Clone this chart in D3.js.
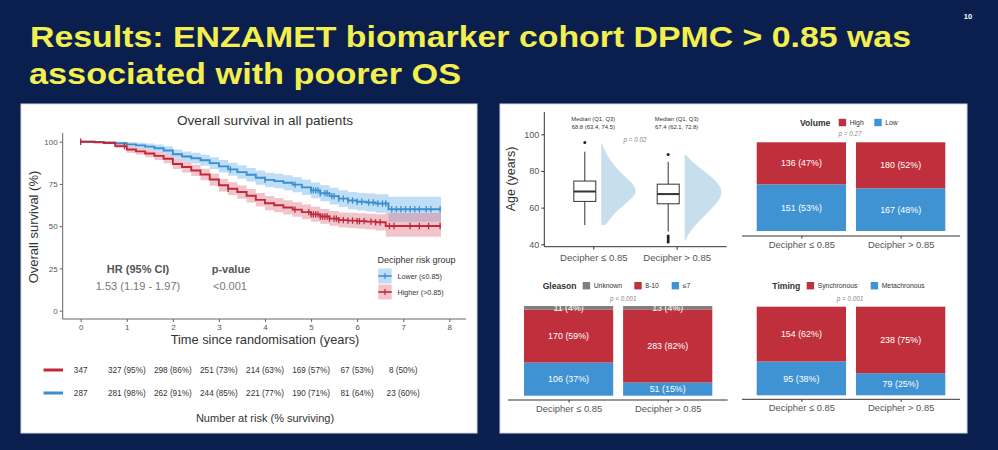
<!DOCTYPE html>
<html><head><meta charset="utf-8">
<script src="https://cdn.jsdelivr.net/npm/d3@7"></script>
<style>body{margin:0;background:#0b1f4f;} svg{display:block}</style>
</head><body>
<svg id="c" width="998" height="450"></svg>
<script>
// ---------------- DATA ----------------
const titleLines = ["Results: ENZAMET biomarker cohort DPMC > 0.85 was", "associated with poorer OS"];
const pageNumber = "10";

// Kaplan-Meier: Lower (<=0.85) group
const lowT  = [0,0.3,0.5,0.75,1.0,1.2,1.4,1.6,1.8,2.0,2.2,2.4,2.6,2.8,3.0,3.2,3.4,3.6,3.8,4.0,4.2,4.4,4.6,4.8,5.0,5.2,5.4,5.6,5.8,6.0,6.2,6.4,6.68,7.82];
const lowS  = [100,99.8,99.5,99.1,98.4,97.8,97.1,96.1,94.8,92.6,91.2,90.2,89.0,87.3,85.4,83.6,82.0,80.4,78.7,77.4,76.7,75.7,74.6,73.0,71.2,69.5,67.8,66.3,65.2,64.5,64.0,63.4,60.0,60.0];
const lowLo = [100,99.5,99.0,98.2,97.1,96.2,95.2,94.0,92.4,89.9,88.3,87.1,85.8,83.9,81.8,79.8,78.1,76.4,74.6,73.2,72.4,71.3,70.1,68.4,66.5,64.7,62.9,61.3,60.1,59.3,58.7,57.9,52.7,52.7];
const lowHi = [100,100,100,100,99.7,99.4,99.0,98.3,97.3,95.4,94.2,93.4,92.3,90.8,89.1,87.5,86.0,84.5,82.9,81.7,81.0,80.1,79.1,77.6,75.9,74.3,72.7,71.3,70.3,69.7,69.3,68.9,67.5,67.5];
const lowCens = [3.25,4.0,4.65,5.0,5.05,5.1,5.15,5.2,5.3,5.35,5.45,5.5,5.6,5.7,5.8,5.9,6.0,6.1,6.25,6.35,6.45,6.55,6.62,6.75,6.85,6.95,7.05,7.15,7.25,7.35,7.5,7.6,7.8];

// Kaplan-Meier: Higher (>0.85) group
const highT  = [0,0.3,0.5,0.75,1.0,1.2,1.4,1.6,1.8,2.0,2.2,2.4,2.6,2.8,3.0,3.2,3.4,3.6,3.8,4.0,4.2,4.4,4.6,4.8,5.0,5.2,5.4,5.6,5.8,6.0,6.2,6.4,6.62,7.82];
const highS  = [100,99.7,99.2,97.4,95.4,94.3,93.0,91.6,89.9,86.8,85.0,83.0,80.6,77.6,74.2,72.2,70.2,68.0,65.6,63.6,62.4,61.1,59.8,58.3,57.0,55.7,54.5,53.6,53.3,53.0,52.7,52.3,50.1,50.1];
const highLo = [100,99.3,98.5,96.2,93.5,92.3,90.8,89.1,87.2,83.8,81.8,79.7,77.2,74.0,70.5,68.4,66.3,64.0,61.6,59.5,58.3,56.9,55.6,54.1,52.7,51.4,50.2,49.2,48.9,48.5,48.1,47.5,43.8,43.8];
const highHi = [100,100,99.9,98.6,97.3,96.3,95.2,94.1,92.6,89.8,88.2,86.3,84.0,81.2,78.0,76.0,74.1,72.0,69.7,67.8,66.7,65.4,64.2,62.8,61.5,60.2,59.0,58.1,57.9,57.6,57.3,57.0,57.8,57.8];
const highCens = [0,0.95,3.2,4.65,4.95,5.0,5.05,5.1,5.15,5.2,5.25,5.3,5.35,5.4,5.5,5.55,5.6,5.7,5.8,5.9,6.0,6.05,6.15,6.3,6.4,6.5,6.7,6.8,7.15,7.35,7.55,7.8];

const kmXTicks = [0,1,2,3,4,5,6,7,8];
const kmYTicks = [0,25,50,75,100];
const riskTimes = [0,1,2,3,4,5,6,7];
const riskHigh = ["347","327 (95%)","298 (86%)","251 (73%)","214 (63%)","169 (57%)","67 (53%)","8 (50%)"];
const riskLow  = ["287","281 (98%)","262 (91%)","244 (85%)","221 (77%)","190 (71%)","81 (64%)","23 (60%)"];
const kmLegend = ["Lower (\u22640.85)", "Higher (>0.85)"];

// Boxplot of age
const groups = ["Decipher \u2264 0.85", "Decipher > 0.85"];
const ageTicks = [40,60,80,100];
const ageQ1 = [63.4, 62.1];
const ageMed = [68.8, 67.4];
const ageQ3 = [74.5, 72.8];
const ageWhiskLo = [50.5, 47.0];
const ageWhiskHi = [90.5, 85.0];
const ageOutliers = [[95.5], [89.0, 44.5, 43.6, 42.4, 41.2]];
const densAge1 = [50.5,52,57,62.4,67.8,73.3,78.7,84.2,89.6,95];
const densVal1 = [0.10,0.17,0.34,0.64,0.96,0.83,0.51,0.29,0.11,0.02];
const densAge2 = [41.5,46,51.5,57,62.4,67.8,73.3,78.7,84.2,88.7];
const densVal2 = [0.0,0.10,0.32,0.58,0.84,1.0,0.89,0.58,0.23,0.04];

// Stacked bars
const volHigh = [136,180], volHighPct = [47,52];
const volLow  = [151,167], volLowPct  = [53,48];
const glUnk = [11,13], glUnkPct = [4,4];
const glHi  = [170,283], glHiPct = [59,82];
const glLo  = [106,51], glLoPct = [37,15];
const tmSyn = [154,238], tmSynPct = [62,75];
const tmMet = [95,79], tmMetPct = [38,25];

// ---------------- DRAW ----------------
const F = "'Liberation Sans', Arial, Helvetica, sans-serif";
const RED = "#c0303c", BLUE = "#3f93d2", GRAY = "#7f7f7f";
const KRED = "#c1283a", KBLUE = "#3a8fd0";
const svg = d3.select("#c");
svg.append("rect").attr("width",998).attr("height",450).attr("fill","#0b1f4f");

// title
svg.append("text").attr("x",30).attr("y",46.5).attr("font-family",F).attr("font-weight","bold")
  .attr("font-size",30).attr("fill","#f3ef4e").attr("textLength",881).attr("lengthAdjust","spacingAndGlyphs").text(titleLines[0]);
svg.append("text").attr("x",29).attr("y",83.5).attr("font-family",F).attr("font-weight","bold")
  .attr("font-size",30).attr("fill","#f3ef4e").attr("textLength",432).attr("lengthAdjust","spacingAndGlyphs").text(titleLines[1]);
svg.append("text").attr("x",968).attr("y",19).attr("text-anchor","middle").attr("font-family",F).attr("font-weight","bold")
  .attr("font-size",7.5).attr("fill","#ffffff").text(pageNumber);

// panels
svg.append("rect").attr("x",21).attr("y",104).attr("width",456).attr("height",329).attr("fill","#fff").attr("stroke","#d6d9e0");
svg.append("rect").attr("x",500).attr("y",104).attr("width",467).attr("height",329).attr("fill","#fff").attr("stroke","#d6d9e0");

// ---- KM ----
const xK = d3.scaleLinear().domain([0,8]).range([80.7,449.3]);
const yK = d3.scaleLinear().domain([0,100]).range([310.7,141.7]);
const km = svg.append("g");

km.append("text").attr("x",265).attr("y",125).attr("text-anchor","middle").attr("font-family",F)
  .attr("font-size",13.6).attr("fill","#333").text("Overall survival in all patients");

function series(T,S,L,H){ return T.map((t,i)=>({t, s:S[i], lo:L[i], hi:H[i]})); }
const lowData = series(lowT,lowS,lowLo,lowHi);
const highData = series(highT,highS,highLo,highHi);
const area = d3.area().curve(d3.curveStepAfter).x(d=>xK(d.t)).y0(d=>yK(d.lo)).y1(d=>yK(d.hi));
const line = d3.line().curve(d3.curveStepAfter).x(d=>xK(d.t)).y(d=>yK(d.s));

km.append("path").datum(lowData).attr("d",area).attr("fill","#72b4e6").attr("fill-opacity",0.45);
km.append("path").datum(highData).attr("d",area).attr("fill","#de7d8c").attr("fill-opacity",0.45);
km.append("path").datum(lowData).attr("d",line).attr("fill","none").attr("stroke",KBLUE).attr("stroke-width",1.9);
km.append("path").datum(highData).attr("d",line).attr("fill","none").attr("stroke",KRED).attr("stroke-width",1.9);

const bis = d3.bisector(d=>d.t).right;
function survAt(data,t){ const i = Math.max(0, bis(data,t)-1); return data[i].s; }
function cens(data, times, col){
  km.append("g").selectAll("line").data(times).join("line")
    .attr("x1",t=>xK(t)).attr("x2",t=>xK(t))
    .attr("y1",t=>yK(survAt(data,t))-3.2).attr("y2",t=>yK(survAt(data,t))+3.2)
    .attr("stroke",col).attr("stroke-width",1.3);
}
cens(lowData, lowCens, KBLUE);
cens(highData, highCens, KRED);

// axes
const gy = km.append("g").attr("transform","translate(62.7,0)")
  .call(d3.axisLeft(yK).tickValues(kmYTicks).tickSize(3).tickPadding(2).tickSizeOuter(0));
gy.select(".domain").remove();
gy.selectAll("text").attr("font-size",8).attr("fill","#555").attr("font-family",F);
gy.selectAll("line").attr("stroke","#666");
km.append("line").attr("x1",62.7).attr("x2",62.7).attr("y1",133).attr("y2",319).attr("stroke","#666").attr("stroke-width",1);
const gx = km.append("g").attr("transform","translate(0,319)")
  .call(d3.axisBottom(xK).tickValues(kmXTicks).tickSize(3).tickPadding(2).tickSizeOuter(0));
gx.select(".domain").remove();
gx.selectAll("text").attr("font-size",8).attr("fill","#555").attr("font-family",F);
gx.selectAll("line").attr("stroke","#666");
km.append("line").attr("x1",62.7).attr("x2",466).attr("y1",319).attr("y2",319).attr("stroke","#666").attr("stroke-width",1);

km.append("text").attr("transform","translate(38,227) rotate(-90)").attr("text-anchor","middle")
  .attr("font-family",F).attr("font-size",13).attr("fill","#333").text("Overall survival (%)");
km.append("text").attr("x",265).attr("y",343.5).attr("text-anchor","middle")
  .attr("font-family",F).attr("font-size",12.8).attr("fill","#333").text("Time since randomisation (years)");

// HR annotation
km.append("text").attr("x",138).attr("y",273).attr("text-anchor","middle").attr("font-family",F)
  .attr("font-weight","bold").attr("font-size",11).attr("fill","#555").text("HR (95% CI)");
km.append("text").attr("x",138).attr("y",290).attr("text-anchor","middle").attr("font-family",F)
  .attr("font-size",11).attr("fill","#777").text("1.53 (1.19 - 1.97)");
km.append("text").attr("x",231).attr("y",273).attr("text-anchor","middle").attr("font-family",F)
  .attr("font-weight","bold").attr("font-size",11).attr("fill","#555").text("p-value");
km.append("text").attr("x",230).attr("y",290).attr("text-anchor","middle").attr("font-family",F)
  .attr("font-size",11).attr("fill","#777").text("<0.001");

// KM legend
km.append("text").attr("x",377.5).attr("y",263).attr("font-family",F).attr("font-size",9).attr("fill","#333").text("Decipher risk group");
[[KBLUE,"#72b4e6",276],[KRED,"#de7d8c",292]].forEach((c,i)=>{
  const cy = c[2];
  km.append("rect").attr("x",378.3).attr("y",cy-7.5).attr("width",13.4).attr("height",15).attr("fill",c[1]).attr("fill-opacity",0.45);
  km.append("line").attr("x1",378.3).attr("x2",391.7).attr("y1",cy).attr("y2",cy).attr("stroke",c[0]).attr("stroke-width",1.6);
  km.append("line").attr("x1",385).attr("x2",385).attr("y1",cy-3).attr("y2",cy+3).attr("stroke",c[0]).attr("stroke-width",1.2);
  km.append("text").attr("x",397.5).attr("y",cy+2.5).attr("font-family",F).attr("font-size",7.2).attr("fill","#333").text(kmLegend[i]);
});

// risk table
[[KRED,370,riskHigh],[KBLUE,393,riskLow]].forEach(r=>{
  km.append("line").attr("x1",43.5).attr("x2",63).attr("y1",r[1]).attr("y2",r[1]).attr("stroke",r[0]).attr("stroke-width",3);
  km.append("g").selectAll("text").data(riskTimes).join("text")
    .attr("x",t=>xK(t)).attr("y",r[1]+3).attr("text-anchor","middle").attr("font-family",F)
    .attr("font-size",8.2).attr("fill","#333").text((t,i)=>r[2][i]);
});
km.append("text").attr("x",265).attr("y",422).attr("text-anchor","middle").attr("font-family",F)
  .attr("font-size",11).attr("fill","#333").text("Number at risk (% surviving)");

// ---- Boxplot ----
const bp = svg.append("g");
const yA = d3.scaleLinear().domain([40,100]).range([244.3,134.3]);
const xA = d3.scalePoint().domain(groups).range([593.3,676.7]);
const ga = bp.append("g").attr("transform","translate(544.3,0)")
  .call(d3.axisLeft(yA).tickValues(ageTicks).tickSize(3).tickPadding(2).tickSizeOuter(0));
ga.select(".domain").remove();
ga.selectAll("text").attr("font-size",9).attr("fill","#555").attr("font-family",F);
ga.selectAll("line").attr("stroke","#333");
bp.append("line").attr("x1",544.3).attr("x2",544.3).attr("y1",112).attr("y2",246.7).attr("stroke","#333");
const gb = bp.append("g").attr("transform","translate(0,246.7)")
  .call(d3.axisBottom(xA).tickSize(3).tickPadding(4).tickSizeOuter(0));
gb.select(".domain").remove();
gb.selectAll("text").attr("font-size",9.6).attr("fill","#555").attr("font-family",F);
gb.selectAll("line").attr("stroke","#333");
bp.append("line").attr("x1",544.3).attr("x2",726.7).attr("y1",246.7).attr("y2",246.7).attr("stroke","#333");
bp.append("text").attr("transform","translate(515,179) rotate(-90)").attr("text-anchor","middle")
  .attr("font-family",F).attr("font-size",12.5).attr("fill","#333").text("Age (years)");

const dens = [densAge1.map((a,i)=>[a,densVal1[i]]), densAge2.map((a,i)=>[a,densVal2[i]])];
const wScale = d3.scaleLinear().domain([0,1]).range([0,38.4]);
groups.forEach((g,i)=>{
  const cx = xA(g) - 8.5;
  const x0 = cx + 16.5;
  bp.append("path").datum(dens[i]).attr("fill","#c7deec")
    .attr("d", d3.area().curve(d3.curveBasis).y(d=>yA(d[0])).x0(x0).x1(d=>x0+wScale(d[1])));
  // whiskers
  bp.append("line").attr("x1",cx).attr("x2",cx).attr("y1",yA(ageWhiskHi[i])).attr("y2",yA(ageQ3[i])).attr("stroke","#333");
  bp.append("line").attr("x1",cx).attr("x2",cx).attr("y1",yA(ageQ1[i])).attr("y2",yA(ageWhiskLo[i])).attr("stroke","#333");
  bp.append("rect").attr("x",cx-11).attr("width",22).attr("y",yA(ageQ3[i])).attr("height",yA(ageQ1[i])-yA(ageQ3[i]))
    .attr("fill","#fff").attr("stroke","#333");
  bp.append("line").attr("x1",cx-11).attr("x2",cx+11).attr("y1",yA(ageMed[i])).attr("y2",yA(ageMed[i])).attr("stroke","#333").attr("stroke-width",2);
  bp.append("g").selectAll("circle").data(ageOutliers[i]).join("circle")
    .attr("cx",cx).attr("cy",d=>yA(d)).attr("r",1.5).attr("fill","#222");
  bp.append("text").attr("x",xA(g)).attr("y",120.5).attr("text-anchor","middle").attr("font-family",F)
    .attr("font-size",5.9).attr("fill","#333").text("Median (Q1, Q3)");
  bp.append("text").attr("x",xA(g)).attr("y",128.5).attr("text-anchor","middle").attr("font-family",F)
    .attr("font-size",5.9).attr("fill","#333").text(`${ageMed[i]} (${ageQ1[i]}, ${ageQ3[i]})`);
});
bp.append("text").attr("x",635).attr("y",142).attr("text-anchor","middle").attr("font-family",F)
  .attr("font-style","italic").attr("font-size",6.3).attr("fill","#888").text("p = 0.02");

// ---- stacked bar panels ----
function stackPanel(o){
  const g = svg.append("g");
  const xb = d3.scaleBand().domain(groups).range(o.xr).paddingInner(0.1);
  const yb = d3.scaleLinear().domain([0,1]).range([o.yb, o.yt]);
  const rows = groups.map((c,i)=>{ const r={cat:c}; o.keys.forEach(k=>r[k.name]=k.vals[i]); return r; });
  const st = d3.stack().keys(o.keys.map(k=>k.name)).offset(d3.stackOffsetExpand)(rows);
  st.forEach((layer,li)=>{
    const k = o.keys[li];
    g.append("g").selectAll("rect").data(layer).join("rect")
      .attr("x",d=>xb(d.data.cat)).attr("width",xb.bandwidth())
      .attr("y",d=>yb(d[1])).attr("height",d=>yb(d[0])-yb(d[1])).attr("fill",k.color);
    g.append("g").selectAll("text").data(layer).join("text")
      .attr("x",d=>xb(d.data.cat)+xb.bandwidth()/2).attr("y",d=>(yb(d[0])+yb(d[1]))/2)
      .attr("dy","0.35em").attr("text-anchor","middle").attr("font-family",F).attr("font-size",8.9)
      .attr("fill","#fff").text((d,i)=>`${k.vals[i]} (${k.pcts[i]}%)`);
  });
  g.append("line").attr("x1",o.ax[0]).attr("x2",o.ax[1]).attr("y1",o.ay).attr("y2",o.ay).attr("stroke","#333");
  const gxx = g.append("g").attr("transform",`translate(0,${o.ay})`)
    .call(d3.axisBottom(d3.scalePoint().domain(groups).range([xb(groups[0])+xb.bandwidth()/2, xb(groups[1])+xb.bandwidth()/2]))
      .tickSize(2.5).tickPadding(3).tickSizeOuter(0));
  gxx.select(".domain").remove();
  gxx.selectAll("text").attr("font-size",9.4).attr("fill","#555").attr("font-family",F);
  gxx.selectAll("line").attr("stroke","#333");
  // legend
  g.append("text").attr("x",o.lt).attr("y",o.ly+3).attr("font-family",F).attr("font-weight","bold")
    .attr("font-size",8.6).attr("fill","#333").text(o.title);
  o.legend.forEach(l=>{
    g.append("rect").attr("x",l.x).attr("y",o.ly-3.7).attr("width",7.4).attr("height",7.4).attr("fill",l.color);
    g.append("text").attr("x",l.x+11).attr("y",o.ly+2.4).attr("font-family",F).attr("font-size",6.8).attr("fill","#333").text(l.label);
  });
  g.append("text").attr("x",o.px).attr("y",o.py).attr("text-anchor","middle").attr("font-family",F)
    .attr("font-style","italic").attr("font-size",6.3).attr("fill","#888").text(o.p);
}

stackPanel({xr:[756.7,945.3], yt:142.3, yb:231, ay:236, ax:[742,960],
  keys:[{name:"Low",vals:volLow,pcts:volLowPct,color:BLUE},{name:"High",vals:volHigh,pcts:volHighPct,color:RED}],
  title:"Volume", lt:800, ly:122.5,
  legend:[{x:838.7,color:RED,label:"High"},{x:874.3,color:BLUE,label:"Low"}],
  p:"p = 0.27", px:850, py:136});

stackPanel({xr:[524,712.3], yt:306, yb:395.7, ay:400, ax:[508,727.7],
  keys:[{name:"le7",vals:glLo,pcts:glLoPct,color:BLUE},{name:"h810",vals:glHi,pcts:glHiPct,color:RED},{name:"Unknown",vals:glUnk,pcts:glUnkPct,color:GRAY}],
  title:"Gleason", lt:542.7, ly:285.7,
  legend:[{x:582.7,color:GRAY,label:"Unknown"},{x:634.3,color:RED,label:"8-10"},{x:671.7,color:BLUE,label:"\u22647"}],
  p:"p < 0.001", px:623.3, py:300.5});

stackPanel({xr:[756.7,945.3], yt:306.7, yb:395.3, ay:399.3, ax:[742,960],
  keys:[{name:"Met",vals:tmMet,pcts:tmMetPct,color:BLUE},{name:"Syn",vals:tmSyn,pcts:tmSynPct,color:RED}],
  title:"Timing", lt:772.3, ly:285.7,
  legend:[{x:806.7,color:RED,label:"Synchronous"},{x:870.7,color:BLUE,label:"Metachronous"}],
  p:"p = 0.001", px:850, py:300.5});
</script>
</body></html>
